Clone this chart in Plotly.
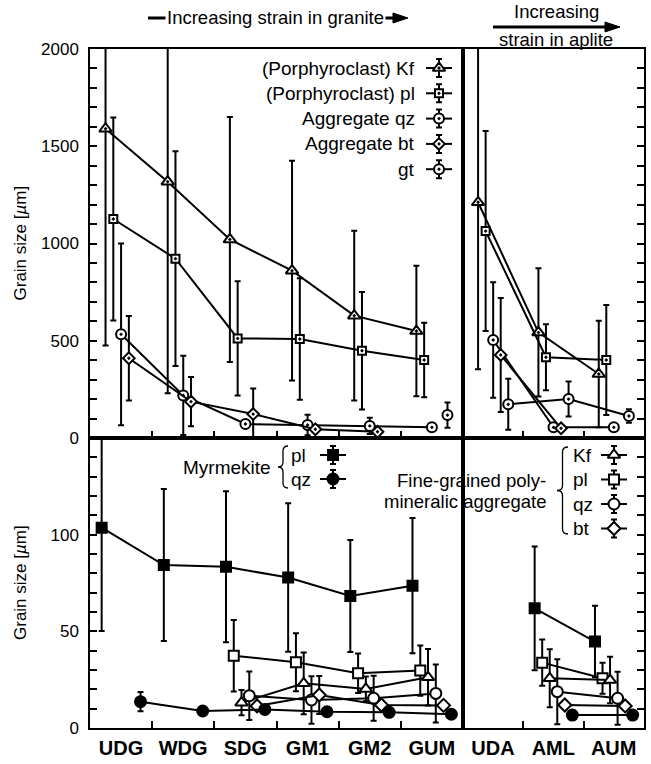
import plotly.graph_objects as go

# ---------------- data ----------------
granite_sites = ["UDG", "WDG", "SDG", "GM1", "GM2", "GUM"]
aplite_sites = ["UDA", "AML", "AUM"]

# Porphyroclasts and aggregates (upper panels), mean and standard deviation [µm]
kf_granite = [1590, 1318, 1021, 860, 629, 550]
kf_granite_sd = [1115, 1088, 630, 565, 436, 335]
pl_granite = [1126, 922, 512, 509, 449, 401]
pl_granite_sd = [522, 552, 294, 312, 302, 192]
qz_granite = [533, 219, 72, 67, 62, 55]
qz_granite_sd = [467, 204, 18, 53, 42, 12]
bt_granite = [410, 187, 123, 45, 32, None]
bt_granite_sd = [217, 127, 132, 12, 10, None]
gt_granite = [None, None, None, None, None, 118]
gt_granite_sd = [None, None, None, None, None, 65]

kf_aplite = [1212, 543, 329]
kf_aplite_sd = [859, 330, 274]
pl_aplite = [1064, 415, 401]
pl_aplite_sd = [514, 170, 283]
qz_aplite = [504, 55, 55]
qz_aplite_sd = [297, 14, 14]
bt_aplite = [427, 50, None]
bt_aplite_sd = [293, 10, None]
gt_aplite = [173, 200, 113]
gt_aplite_sd = [131, 90, 35]

# Myrmekite and fine-grained polymineralic aggregate (lower panels)
myr_pl_granite = [103.6, 84.3, 83.4, 77.8, 68.3, 73.6]
myr_pl_granite_sd = [53.4, 39.3, 39.0, 38.4, 29.0, 35.0]
myr_qz_granite = [13.6, 8.8, 9.6, 8.4, 8.1, 7.1]
myr_qz_granite_sd = [5.0, 1.0, 1.0, 1.0, 1.0, 1.0]
fg_kf_granite = [None, None, 13.1, 23.1, 20.2, 26.2]
fg_kf_granite_sd = [None, None, 6.5, 16.0, 6.4, 14.6]
fg_pl_granite = [None, None, 37.4, 34.0, 28.3, 29.7]
fg_pl_granite_sd = [None, None, 18.5, 15.0, 10.2, 13.0]
fg_qz_granite = [None, None, 16.7, 14.5, 15.4, 17.9]
fg_qz_granite_sd = [None, None, 12.5, 12.3, 11.6, 15.0]
fg_bt_granite = [None, None, 11.4, 17.1, 11.9, 11.7]
fg_bt_granite_sd = [None, None, 2.0, 9.8, 2.0, 2.0]

myr_pl_aplite = [None, 61.9, 44.7]
myr_pl_aplite_sd = [None, 32.0, 18.5]
myr_qz_aplite = [None, 6.7, 6.7]
myr_qz_aplite_sd = [None, 1.0, 1.0]
fg_kf_aplite = [None, 25.7, 24.8]
fg_kf_aplite_sd = [None, 15.0, 12.0]
fg_pl_aplite = [None, 33.8, 25.7]
fg_pl_aplite_sd = [None, 12.0, 8.0]
fg_qz_aplite = [None, 18.8, 15.4]
fg_qz_aplite_sd = [None, 16.8, 13.7]
fg_bt_aplite = [None, 11.9, 11.4]
fg_bt_aplite_sd = [None, 2.0, 2.0]

# ---------------- geometry ----------------
W, H = 651, 764
L, R, T, B = 90, 644, 49, 728          # plot area in pixels
SPLIT_X = 463                            # granite | aplite divider
SPLIT_Y = 438                            # upper | lower divider
FONT = "Liberation Sans, Arial, sans-serif"


def px(x, y):
    """pixel position -> paper coordinates"""
    return (x - L) / (R - L), (B - y) / (B - T)


xs = px(SPLIT_X, 0)[0]
ys = px(0, SPLIT_Y)[1]

fig = go.Figure()


def add_series(xa, ya, vals, sds, offset, symbol, size, fill, lw=2):
    x = [i + offset for i in range(len(vals))]
    err = [s if s is not None else 0 for s in sds]
    fig.add_trace(go.Scatter(
        x=x, y=vals, xaxis=xa, yaxis=ya, mode="lines+markers",
        line=dict(color="black", width=2),
        marker=dict(symbol=symbol, size=size, color=fill,
                    line=dict(color="black", width=lw)),
        error_y=dict(type="data", array=err, visible=True,
                     color="black", thickness=2, width=3),
        showlegend=False, hoverinfo="skip"))


# upper panels: five series spread across each site
up_off = [0.25, 0.375, 0.5, 0.625, 0.75]
upper = [
    (kf_granite, kf_granite_sd, kf_aplite, kf_aplite_sd, "triangle-up-dot", 11),
    (pl_granite, pl_granite_sd, pl_aplite, pl_aplite_sd, "square-dot", 8),
    (qz_granite, qz_granite_sd, qz_aplite, qz_aplite_sd, "circle-dot", 10),
    (bt_granite, bt_granite_sd, bt_aplite, bt_aplite_sd, "diamond-dot", 9),
    (gt_granite, gt_granite_sd, gt_aplite, gt_aplite_sd, "circle-dot", 10),
]
for off, (vg, sg, va, sa, sym, sz) in zip(up_off, upper):
    add_series("x", "y", vg, sg, off, sym, sz, "white")
    add_series("x2", "y2", va, sa, off, sym, sz, "white")

# lower panels: six series
lo_off = [0.1875, 0.3125, 0.4375, 0.5625, 0.6875, 0.8125]
lower = [
    (myr_pl_granite, myr_pl_granite_sd, myr_pl_aplite, myr_pl_aplite_sd, "square", 10, "black"),
    (fg_pl_granite, fg_pl_granite_sd, fg_pl_aplite, fg_pl_aplite_sd, "square", 10, "white"),
    (fg_kf_granite, fg_kf_granite_sd, fg_kf_aplite, fg_kf_aplite_sd, "triangle-up", 11, "white"),
    (fg_qz_granite, fg_qz_granite_sd, fg_qz_aplite, fg_qz_aplite_sd, "circle", 11, "white"),
    (fg_bt_granite, fg_bt_granite_sd, fg_bt_aplite, fg_bt_aplite_sd, "diamond", 10, "white"),
    (myr_qz_granite, myr_qz_granite_sd, myr_qz_aplite, myr_qz_aplite_sd, "circle", 11, "black"),
]
for off, (vg, sg, va, sa, sym, sz, fill) in zip(lo_off, lower):
    add_series("x3", "y3", vg, sg, off, sym, sz, fill)
    add_series("x4", "y4", va, sa, off, sym, sz, fill)

# ---------------- legend keys (pixel-space overlay axes) ----------------
def key(x, y, symbol, size, fill):
    fig.add_trace(go.Scatter(
        x=[x - 13, x + 13], y=[y, y], xaxis="x5", yaxis="y5", mode="lines",
        line=dict(color="black", width=2), showlegend=False, hoverinfo="skip"))
    fig.add_trace(go.Scatter(
        x=[x], y=[y], xaxis="x5", yaxis="y5", mode="markers",
        marker=dict(symbol=symbol, size=size, color=fill,
                    line=dict(color="black", width=2)),
        error_y=dict(type="data", array=[9], visible=True, color="black",
                     thickness=2, width=3),
        showlegend=False, hoverinfo="skip"))


annotations = []


def text(x, y, s, anchor="center", size=19, **kw):
    px_, py_ = px(x, y)
    annotations.append(dict(x=px_, y=py_, xref="paper", yref="paper", text=s,
                            showarrow=False, xanchor=anchor, yanchor="middle",
                            font=dict(family=FONT, size=size, color="black"), **kw))


top_rows = [("(Porphyroclast) Kf", "triangle-up-dot", 11),
            ("(Porphyroclast) pl", "square-dot", 8),
            ("Aggregate qz", "circle-dot", 10),
            ("Aggregate bt", "diamond-dot", 9),
            ("gt", "circle-dot", 10)]
for i, (lab, sym, sz) in enumerate(top_rows):
    yy = 68 + i * 25.3
    key(439, yy, sym, sz, "white")
    text(417, yy, lab, anchor="right")

# Myrmekite key
key(333, 455, "square", 10, "black")
key(333, 479, "circle", 11, "black")
text(273, 467, "Myrmekite", anchor="right")
text(289, 455, "pl", anchor="left")
text(289, 479, "qz", anchor="left")

# Fine-grained aggregate key
fg_rows = [("Kf", "triangle-up", 11), ("pl", "square", 10),
           ("qz", "circle", 11), ("bt", "diamond", 10)]
for i, (lab, sym, sz) in enumerate(fg_rows):
    yy = 455 + i * 24.5
    key(614, yy, sym, sz, "white")
    text(571, yy, lab, anchor="left")
text(548, 480, "Fine-grained poly-", anchor="right", size=18.5)
text(548, 501, "mineralic aggregate", anchor="right", size=18.5)

shapes = []


def brace(xr, xl, y0, y1):
    xm = (xr + xl) / 2
    ym = (y0 + y1) / 2
    r = 5
    pts = lambda x, y: "%.5f,%.5f" % px(x, y)
    path = ("M " + pts(xr, y0) + " Q " + pts(xm, y0) + " " + pts(xm, y0 + r) +
            " L " + pts(xm, ym - r) + " Q " + pts(xm, ym) + " " + pts(xl, ym) +
            " Q " + pts(xm, ym) + " " + pts(xm, ym + r) +
            " L " + pts(xm, y1 - r) + " Q " + pts(xm, y1) + " " + pts(xr, y1))
    shapes.append(dict(type="path", path=path, xref="paper", yref="paper",
                       line=dict(color="black", width=1.3)))


brace(288, 278, 446, 488)
brace(568, 557, 447, 534)


def arrow(x0, x1, y):
    a, b = px(x0, y)
    c, _ = px(x1 - 12, y)
    shapes.append(dict(type="line", x0=a, x1=c, y0=b, y1=b, xref="paper",
                       yref="paper", line=dict(color="black", width=3)))
    p1 = px(x1, y)
    p2 = px(x1 - 15, y - 5)
    p3 = px(x1 - 15, y + 5)
    shapes.append(dict(type="path", xref="paper", yref="paper",
                       path="M %f,%f L %f,%f L %f,%f Z" % (*p1, *p2, *p3),
                       fillcolor="black", line=dict(color="black", width=1)))


arrow(148, 408, 18)
text(275, 18, "Increasing strain in granite", size=18.5, bgcolor="white",
     borderpad=1)
arrow(493, 620, 27)
text(556, 12, "Increasing", size=18.5)
text(556, 39, "strain in aplite", size=18.5)

# y-axis titles
text(20, (T + SPLIT_Y) / 2, "Grain size [<i>µ</i>m]", size=17, textangle=-90)
text(20, (SPLIT_Y + B) / 2, "Grain size [<i>µ</i>m]", size=17, textangle=-90)

# ---------------- axes ----------------
line_kw = dict(showline=True, linecolor="black", linewidth=1.5, mirror=True,
               showgrid=False, zeroline=False, fixedrange=True,
               automargin=False)
tick_kw = dict(ticks="inside", ticklen=7, tickwidth=1.5, tickcolor="black")
tick_font = dict(family=FONT, size=17, color="black")
site_font = dict(family=FONT, size=20, color="black")

up_vals = list(range(0, 2001, 100))
lo_vals = list(range(0, 151, 10))

# site names sit mid-cell: labels are attached to the left cell boundary
# and shifted by half a cell width
half_cell_g = int(round((SPLIT_X - L) / 12))
half_cell_a = int(round((R - SPLIT_X) / 6))

fig.update_layout(
    template="none",
    width=W, height=H, autosize=False,
    margin=dict(l=L, r=W - R, t=T, b=H - B, pad=0),
    font=dict(family=FONT, color="black"),
    paper_bgcolor="white", plot_bgcolor="rgba(0,0,0,0)",
    showlegend=False,
    xaxis=dict(domain=[0, xs], anchor="y", range=[0, 6], tickmode="array",
               tickvals=list(range(7)), showticklabels=False, **tick_kw, **line_kw),
    yaxis=dict(domain=[ys, 1], anchor="x", range=[0, 2000], tickmode="array",
               tickvals=up_vals,
               ticktext=[str(v) if v % 500 == 0 else "" for v in up_vals],
               tickfont=tick_font, ticklabelstandoff=6, **tick_kw, **line_kw),
    xaxis2=dict(domain=[xs, 1], anchor="y2", range=[0, 3], tickmode="array",
                tickvals=list(range(4)), showticklabels=False, **tick_kw, **line_kw),
    yaxis2=dict(domain=[ys, 1], anchor="x2", range=[0, 2000], side="right",
                tickmode="array", tickvals=up_vals, showticklabels=False,
                **tick_kw, **line_kw),
    xaxis3=dict(domain=[0, xs], anchor="y3", range=[0, 6], tickmode="array",
                tickvals=list(range(7)),
                ticktext=["<b>%s</b>" % s for s in granite_sites] + [""],
                ticklabelshift=half_cell_g, tickfont=site_font,
                ticklabelstandoff=1, **tick_kw, **line_kw),
    yaxis3=dict(domain=[0, ys], anchor="x3", range=[0, 150], tickmode="array",
                tickvals=lo_vals,
                ticktext=[str(v) if v in (0, 50, 100) else "" for v in lo_vals],
                tickfont=tick_font, ticklabelstandoff=6, **tick_kw, **line_kw),
    xaxis4=dict(domain=[xs, 1], anchor="y4", range=[0, 3], tickmode="array",
                tickvals=list(range(4)),
                ticktext=["<b>%s</b>" % s for s in aplite_sites] + [""],
                ticklabelshift=half_cell_a, tickfont=site_font,
                ticklabelstandoff=1, **tick_kw, **line_kw),
    yaxis4=dict(domain=[0, ys], anchor="x4", range=[0, 150], side="right",
                tickmode="array", tickvals=lo_vals, showticklabels=False,
                **tick_kw, **line_kw),
    xaxis5=dict(domain=[0, 1], anchor="y5", range=[L, R], visible=False,
                fixedrange=True, automargin=False),
    yaxis5=dict(domain=[0, 1], anchor="x5", range=[B, T], visible=False,
                fixedrange=True, automargin=False),
    annotations=annotations,
    shapes=shapes,
)

fig.write_html("out.html")
